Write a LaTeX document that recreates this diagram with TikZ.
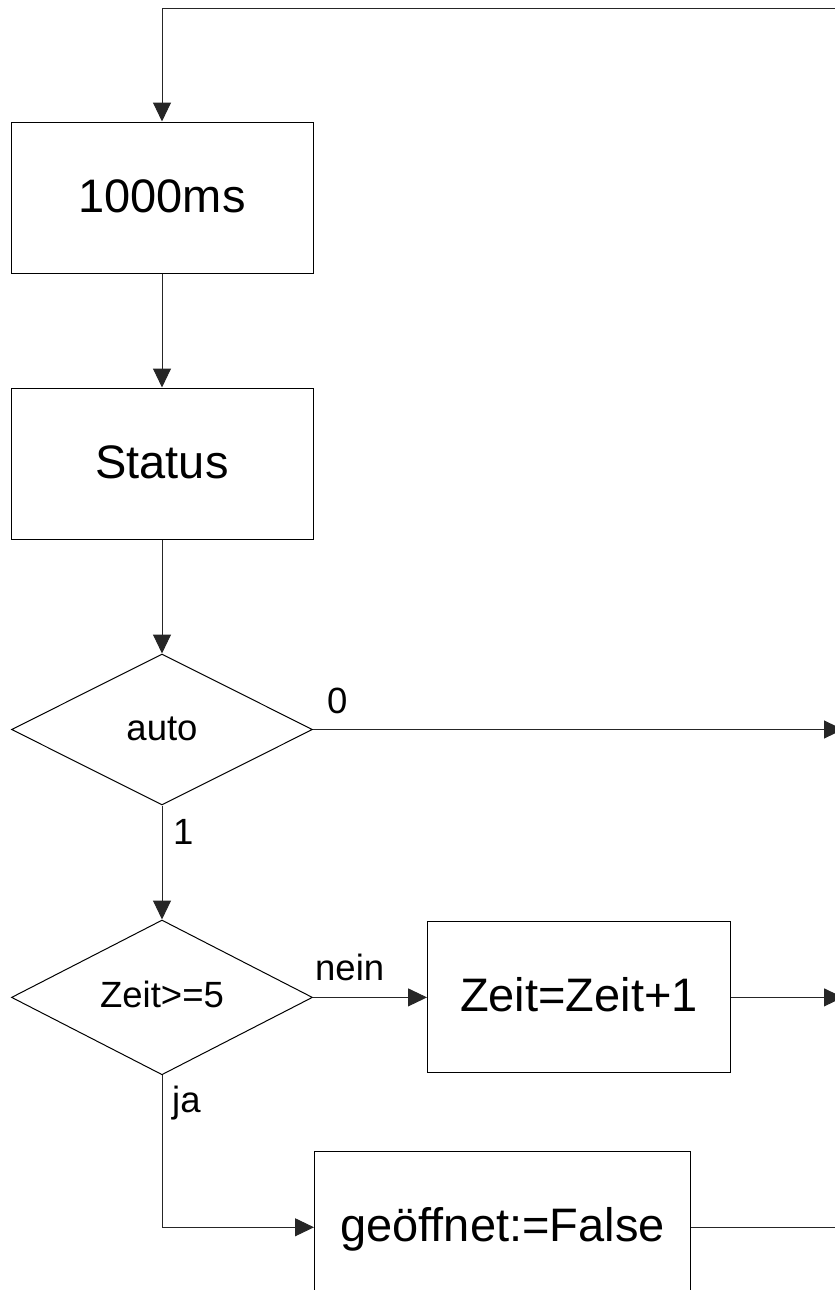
\documentclass[tikz,border=0pt]{standalone}
\usepackage{fontspec}
\setmainfont{Liberation Sans}
\usetikzlibrary{shapes.geometric,arrows.meta,positioning}

\begin{document}
\begin{tikzpicture}[x=1pt, y=-1pt, node distance=114pt]

    % Styles for the flow chart
    \tikzset{
        box/.style={draw=black, line width=1pt, minimum width=302pt, minimum height=151pt, inner sep=0pt, font=\fontsize{47}{56}\selectfont, text height=34pt, text depth=5pt},
        decision/.style={draw=black, line width=1pt, diamond, minimum width=301pt, minimum height=151pt, inner sep=0pt, font=\fontsize{36.5}{44}\selectfont, text height=26pt, text depth=5pt},
        lbl/.style={inner sep=0pt, font=\fontsize{36.5}{44}\selectfont},
        arrow/.style={-{Triangle[length=19pt, width=18pt]}, line width=1pt, black!85},
        line/.style={line width=1pt, black!85}
    }

    \useasboundingbox (0,0) rectangle (835,1290);
    \clip (0,0) rectangle (835,1290);

    % Main column
    \node[box] (takt) at (162,197.5) {1000ms};
    \node[box, below=of takt] (status) {Status};
    \node[decision, below=of status] (auto) {auto};
    \node[decision, below=of auto] (zeitabfrage) {Zeit>=5};
    \node[box, minimum width=303pt, right=of zeitabfrage] (zeitplus) {Zeit=Zeit+1};

    \coordinate (ecke) at (zeitabfrage.south -| zeitabfrage.east);
    \node[box, minimum width=376pt, below right=76pt and 1pt of ecke] (offen) {geöffnet:=False};

    % Branch labels
    \node[lbl, above right=15pt and 14pt of auto.east] (null) {0};
    \node[lbl, below right=14pt and 11pt of auto.south] (eins) {1};
    \node[lbl, above right=16pt and 2pt of zeitabfrage.east] (nein) {nein};
    \node[lbl, below right=11pt and 10pt of zeitabfrage.south] (ja) {ja};

    % Connectors
    \coordinate (rueck) at (900,9);
    \coordinate (rand) at (843,0);
    \draw[arrow] (rueck) -| (takt.north);
    \draw[arrow] (takt) -- (status);
    \draw[arrow] (status) -- (auto);
    \draw[arrow] (auto) -- (zeitabfrage);
    \draw[arrow] (zeitabfrage) -- (zeitplus);
    \draw[arrow] (zeitabfrage.south) |- (offen.west);
    \draw[arrow] (auto.east) -- (auto.east -| rand);
    \draw[arrow] (zeitplus.east) -- (zeitplus.east -| rand);
    \draw[line] (offen.east) -- (offen.east -| rueck);

\end{tikzpicture}
\end{document}
